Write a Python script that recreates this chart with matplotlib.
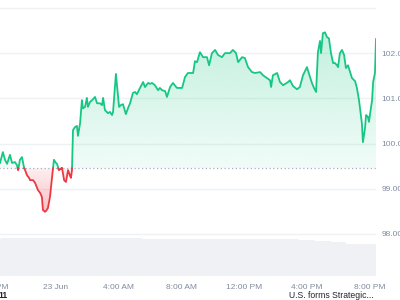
import numpy as np
import pandas as pd
import matplotlib
matplotlib.use("Agg")
import matplotlib.pyplot as plt
import matplotlib.dates as mdates
from matplotlib.path import Path

plt.rcParams["font.family"] = ["Liberation Sans", "DejaVu Sans"]

# price, minutes after 22 Jun 20:00
minutes = [26, 37, 45, 53, 64, 72, 83, 91, 95, 102, 110, 118, 122, 129, 137, 141, 152, 160,
           171, 179, 186, 190, 198, 202, 209, 217, 225, 232, 240, 244, 251, 263, 271, 278,
           286, 294, 297, 301, 305, 312, 320, 324, 332, 339, 343, 351, 358, 362, 370, 378,
           389, 397, 408, 416, 420, 427, 439, 446, 454, 458, 469, 481, 488, 496, 507, 515,
           523, 534, 542, 549, 561, 573, 580, 592, 599, 607, 618, 630, 637, 645, 657, 664,
           676, 687, 702, 722, 733, 744, 764, 771, 779, 790, 802, 817, 825, 836, 848, 859,
           874, 886, 905, 916, 928, 936, 951, 962, 974, 989, 1001, 1020, 1031, 1046, 1058,
           1062, 1069, 1085, 1096, 1108, 1127, 1134, 1146, 1161, 1172, 1184, 1199, 1207,
           1218, 1226, 1234, 1241, 1249, 1253, 1260, 1268, 1276, 1283, 1291, 1299, 1306,
           1314, 1318, 1325, 1333, 1341, 1348, 1356, 1371, 1383, 1390, 1398, 1409, 1413,
           1421, 1425, 1432, 1436, 1448, 1452, 1459, 1463]
price = [99.57, 99.81, 99.64, 99.55, 99.75, 99.57, 99.59, 99.52, 99.41, 99.64, 99.70, 99.46,
         99.41, 99.30, 99.24, 99.19, 99.19, 99.13, 98.97, 98.91, 98.82, 98.53, 98.49, 98.51,
         98.57, 98.82, 99.26, 99.64, 99.57, 99.55, 99.41, 99.46, 99.19, 99.15, 99.41, 99.28,
         99.24, 99.41, 100.30, 100.36, 100.39, 100.17, 100.45, 100.96, 100.78, 100.81,
         101.01, 100.81, 100.92, 100.96, 101.03, 100.89, 100.89, 100.85, 101.01, 100.74,
         100.67, 100.70, 100.63, 100.70, 101.54, 100.81, 100.85, 100.87, 100.65, 100.78,
         100.89, 101.12, 101.14, 101.09, 101.23, 101.36, 101.25, 101.34, 101.32, 101.34,
         101.29, 101.18, 101.23, 101.18, 101.16, 101.03, 101.25, 101.34, 101.23, 101.23,
         101.47, 101.56, 101.56, 101.82, 101.80, 102.02, 101.91, 101.91, 101.73, 102.00,
         102.07, 101.96, 101.91, 102.00, 102.00, 102.07, 102.00, 101.80, 101.91, 101.89,
         101.69, 101.58, 101.56, 101.58, 101.51, 101.45, 101.40, 101.25, 101.51, 101.56,
         101.36, 101.29, 101.36, 101.40, 101.27, 101.20, 101.25, 101.51, 101.69, 101.54,
         101.34, 101.23, 101.14, 102.02, 102.27, 102.00, 102.44, 102.46, 102.35, 102.33,
         102.00, 101.78, 101.78, 101.73, 101.69, 102.00, 102.07, 101.96, 101.67, 101.73,
         101.45, 101.38, 101.23, 100.96, 100.45, 100.03, 100.34, 100.63, 100.59, 100.48,
         100.96, 101.36, 101.56, 102.31]
base_price = 99.45

# hourly volume (relative units), one bar per hour from 22 Jun 20:00
vol_hours = list(range(25))
volume = [37, 38, 38, 38, 38, 38.5, 38, 38, 38, 38, 37.5, 37.5, 37, 37, 37, 37, 37, 37,
          37, 37, 36.5, 35.5, 34, 32.5, 32]

tick_hours = [0, 4, 8, 12, 16, 20, 24]
tick_labels = ["8:00 PM", "23 Jun", "4:00 AM", "8:00 AM", "12:00 PM", "4:00 PM", "8:00 PM"]
y_ticks = [98, 99, 100, 101, 102]

start = pd.Timestamp("2025-06-22 20:00")
t = mdates.date2num([start + pd.Timedelta(minutes=m) for m in minutes])
p = np.array(price)
tv = mdates.date2num([start + pd.Timedelta(hours=h) for h in vol_hours])
tt = mdates.date2num([start + pd.Timedelta(hours=h) for h in tick_hours])

GREEN = "#16c784"
RED = "#ea3943"
GREY = "#808a9d"

fig = plt.figure(figsize=(4, 3), dpi=100)
ax = fig.add_axes([-0.05, 0.08, 0.99, 0.8967])
x0 = mdates.date2num(start + pd.Timedelta(minutes=-50.5))
x1 = t[-1]
ax.set_xlim(x0, x1)
ax.set_ylim(97.07, 103.02)

for v in [98, 99, 100, 101, 102, 103]:
    ax.axhline(v, color="#eff2f5", lw=1, zorder=0)

# volume strip along the bottom
vmax_frac = 0.143
vol = np.array(volume)
ax.bar(tv - 0.5 / 24, vol / vol.max() * vmax_frac, width=1 / 24, align="edge",
       color="#eff1f4", lw=0, transform=ax.get_xaxis_transform(), zorder=0.5)

# insert crossing points with baseline
xs, ys = [t[0]], [p[0]]
for i in range(1, len(p)):
    a, b = p[i - 1] - base_price, p[i] - base_price
    if a * b < 0:
        f = a / (a - b)
        xs.append(t[i - 1] + f * (t[i] - t[i - 1]))
        ys.append(base_price)
    xs.append(t[i])
    ys.append(p[i])
xs, ys = np.array(xs), np.array(ys)


def grad_fill(mask, color, a_base, a_far, far):
    poly = ax.fill_between(xs, ys, base_price, where=mask, interpolate=True,
                           facecolor="none", edgecolor="none")
    path = Path.make_compound_path(*poly.get_paths())
    rgb = matplotlib.colors.to_rgb(color)
    img = np.zeros((256, 1, 4))
    img[:, 0, :3] = rgb
    img[:, 0, 3] = np.linspace(a_base, a_far, 256)
    lo, hi = (base_price, far) if far > base_price else (far, base_price)
    if far < base_price:
        img = img[::-1]
    im = ax.imshow(img, extent=[x0, x1, lo, hi], origin="lower", aspect="auto",
                   zorder=1, interpolation="bilinear")
    im.set_clip_path(path, transform=ax.transData)


grad_fill(ys >= base_price, GREEN, 0.06, 0.26, ys.max())
grad_fill(ys <= base_price, RED, 0.08, 0.32, ys.min())

ax.axhline(base_price, color="#a6b0c3", lw=0.9, ls=(0, (1, 2)), zorder=1.5)

ax.plot(xs, np.where(ys >= base_price - 1e-9, ys, np.nan), color=GREEN, lw=1.3, zorder=3)
ax.plot(xs, np.where(ys <= base_price + 1e-9, ys, np.nan), color=RED, lw=1.3, zorder=3)

for s in ax.spines.values():
    s.set_visible(False)
ax.yaxis.tick_right()
ax.set_yticks(y_ticks)
ax.set_yticklabels([f"{v:.2f}" for v in y_ticks])
ax.set_xticks(tt)
ax.set_xticklabels(tick_labels)
ax.tick_params(axis="both", length=0, colors=GREY, labelsize=6)
ax.tick_params(axis="x", pad=6)
ax.tick_params(axis="y", pad=4)

fig.text(331 / 400, 1 - 296 / 300, "U.S. forms Strategic...", ha="center", va="center",
         fontsize=6.2, color="#222531")
fig.text(-0.004, 1 - 296 / 300, "11", ha="left", va="center", fontsize=6.2,
         color="#222531", fontweight="bold")

fig.savefig("out.png", dpi=100)
